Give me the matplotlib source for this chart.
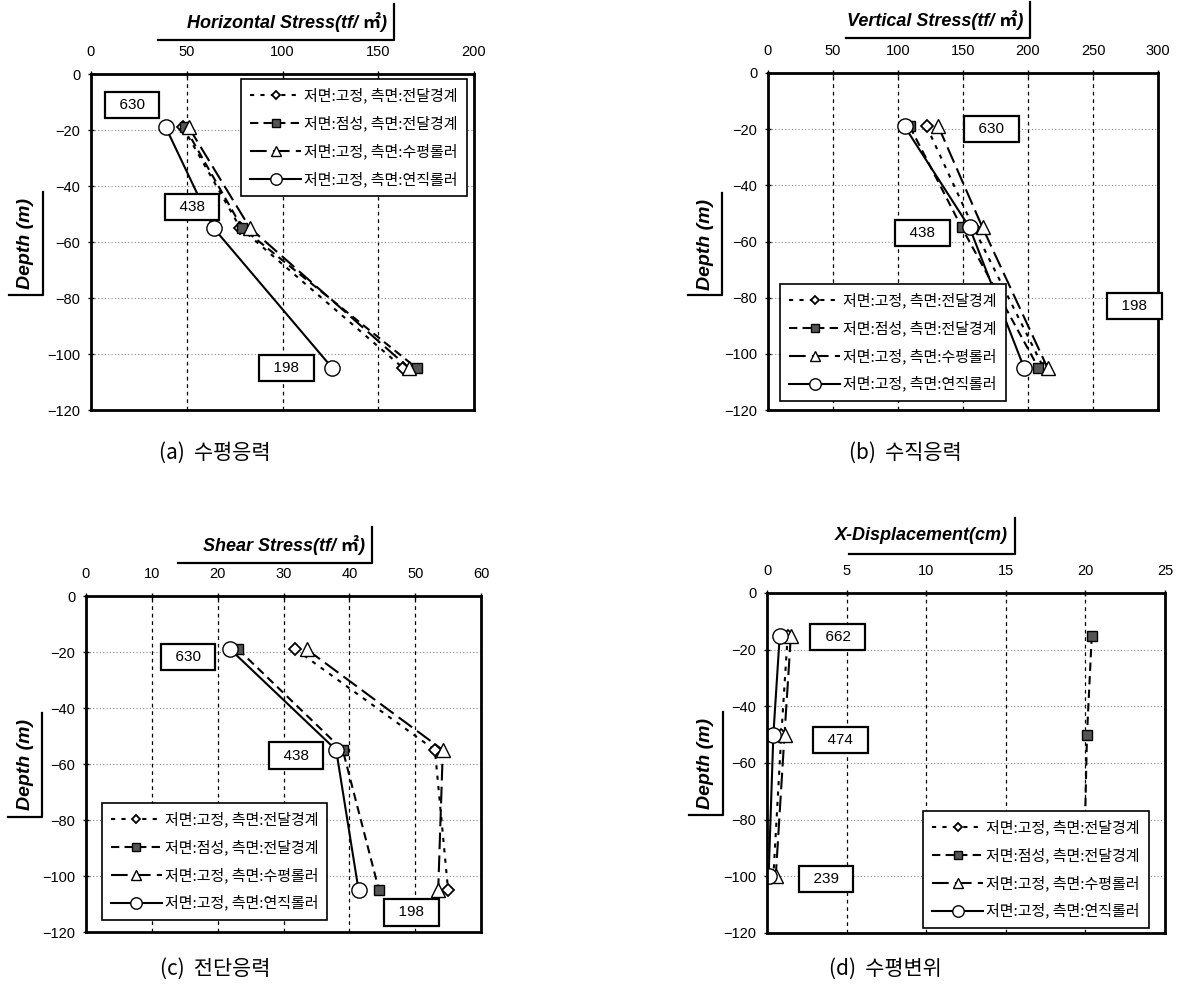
import numpy as np
import matplotlib
matplotlib.use('Agg')
import matplotlib.pyplot as plt
from matplotlib.lines import Line2D

plt.rcParams['font.family'] = ['Liberation Sans', 'Noto Sans CJK KR', 'DejaVu Sans']

# 깊이 (m)
depth_abc = [-19, -55, -105]
depth_d = [-15, -50, -100]

# (a) 수평응력 (tf/m2)
h_fix_trans = [48, 78, 163]
h_visc_trans = [49, 79, 170]
h_fix_hroll = [51, 83, 166]
h_fix_vroll = [39, 64, 126]

# (b) 수직응력 (tf/m2)
v_fix_trans = [122, 158, 212]
v_visc_trans = [109, 149, 208]
v_fix_hroll = [131, 165, 215]
v_fix_vroll = [105, 155, 197]

# (c) 전단응력 (tf/m2)
s_fix_trans = [31.8, 53.0, 55.0]
s_visc_trans = [23.1, 39.0, 44.5]
s_fix_hroll = [33.5, 54.2, 53.5]
s_fix_vroll = [21.9, 38.0, 41.4]

# (d) 수평변위 (cm)
d_fix_trans = [1.3, 0.9, 0.4]
d_visc_trans = [20.4, 20.1, 19.9]
d_fix_hroll = [1.5, 1.1, 0.55]
d_fix_vroll = [0.8, 0.4, 0.1]

names = ['저면:고정, 측면:전달경계', '저면:점성, 측면:전달경계',
         '저면:고정, 측면:수평롤러', '저면:고정, 측면:연직롤러']

# 박스 라벨 (값, x, y)
tags_a = ['630', '438', '198']
tags_a_x = [21.4, 52.7, 102]
tags_a_y = [-11, -47.5, -105]
tags_b = ['630', '438', '198']
tags_b_x = [172, 119, 282]
tags_b_y = [-20, -57, -83]
tags_c = ['630', '438', '198']
tags_c_x = [15.5, 31.9, 49.4]
tags_c_y = [-21.8, -57, -113]
tags_d = ['662', '474', '239']
tags_d_x = [4.45, 4.6, 3.7]
tags_d_y = [-15.5, -52, -101]

styles = [
    dict(ls=(0, (2, 3)), marker='D', ms=6, mfc='white', mec='black', mew=1.3),
    dict(ls=(0, (4, 2.5)), marker='s', ms=7, mfc='#555555', mec='black', mew=1.0),
    dict(ls=(0, (8, 3)), marker='^', ms=10, mfc='white', mec='black', mew=1.0),
    dict(ls='-', marker='o', ms=11, mfc='white', mec='black', mew=1.0),
]

fig = plt.figure(figsize=(11.78, 9.84), dpi=100)
W, H = 1178.0, 984.0


def fx(px):
    return px / W


def fy(py):
    return 1 - py / H


def panel(rect, series, depths, xmax, xstep, leg_anchor, tags, tx, ty, title, tbox, ybox, caption, cap_xy):
    l, t, r, b = rect
    ax = fig.add_axes([fx(l), fy(b), fx(r - l), (b - t) / H])
    for vals, name, st in zip(series, names, styles):
        ax.plot(vals, depths, color='black', lw=1.5, label=name, **st)
    ax.set_xlim(0, xmax)
    ax.set_ylim(-120, 0)
    ax.set_xticks(np.arange(0, xmax + 0.1, xstep))
    ax.set_yticks(np.arange(-120, 1, 20))
    ax.xaxis.tick_top()
    ax.tick_params(axis='both', labelsize=10.5, direction='inout', length=5, width=1,
                   colors='black', pad=5)
    ax.tick_params(axis='x', pad=8)
    for v in ax.get_xticks()[1:-1]:
        ax.axvline(v, color='black', lw=0.9, ls=(0, (3, 3)), zorder=1)
    for v in ax.get_yticks()[1:-1]:
        ax.axhline(v, color='#8a8a8a', lw=0.8, ls=(0, (1, 2)), zorder=1)
    for sp in ax.spines.values():
        sp.set_linewidth(2)
    for s, x, y in zip(tags, tx, ty):
        ax.text(x, y, '  ' + s + '  ', ha='center', va='center', fontsize=11,
                fontweight='medium', zorder=6,
                bbox=dict(boxstyle='square,pad=0.4', fc='white', ec='black', lw=1.6))
    leg = ax.legend(loc='upper left', bbox_to_anchor=leg_anchor, borderaxespad=0,
                    prop={'family': ['Noto Sans CJK KR', 'DejaVu Sans'], 'size': 10.8},
                    handlelength=3.4, handletextpad=0.2, labelspacing=0.8,
                    borderpad=0.6, markerscale=0.75, fancybox=False, framealpha=1,
                    edgecolor='black')
    leg.get_frame().set_linewidth(1.2)
    leg.set_zorder(7)

    # 축 제목과 꺾인 밑줄
    x0, x1, ty0 = tbox
    fig.text(fx(x1 - 3), fy(ty0), title, ha='right', va='center', fontsize=13,
             fontweight='bold', fontstyle='italic',
             family=['Liberation Sans', 'Noto Sans CJK KR'])
    fig.add_artist(Line2D([fx(x0 - 4), fx(x1 + 4), fx(x1 + 4)],
                          [fy(ty0 + 18), fy(ty0 + 18), fy(ty0 - 18)],
                          color='black', lw=1.6))

    yx, yt, yb = ybox
    fig.text(fx(yx - 17), fy((yt + yb) / 2), 'Depth (m)', rotation=90, ha='center',
             va='center', fontsize=14, fontweight='bold', fontstyle='italic')
    fig.add_artist(Line2D([fx(yx - 34), fx(yx), fx(yx)], [fy(yb), fy(yb), fy(yt)],
                          color='black', lw=1.6))

    fig.text(fx(cap_xy[0]), fy(cap_xy[1]), caption, ha='center', va='center', fontsize=15,
             family=['Noto Sans CJK KR', 'DejaVu Sans'], fontweight='light')
    return ax


panel((91, 74, 474, 410), [h_fix_trans, h_visc_trans, h_fix_hroll, h_fix_vroll], depth_abc,
      200, 50, (0.392, 0.985), tags_a, tags_a_x, tags_a_y,
      'Horizontal Stress(tf/ ㎡)', (162, 390, 22), (43, 192, 295), '(a)  수평응력', (215, 453))

panel((768, 73, 1158, 410), [v_fix_trans, v_visc_trans, v_fix_hroll, v_fix_vroll], depth_abc,
      300, 50, (0.031, 0.374), tags_b, tags_b_x, tags_b_y,
      'Vertical Stress(tf/ ㎡)', (850, 1026, 20), (722, 193, 295), '(b)  수직응력', (905, 453))

panel((86, 596, 481, 932), [s_fix_trans, s_visc_trans, s_fix_hroll, s_fix_vroll], depth_abc,
      60, 10, (0.04, 0.384), tags_c, tags_c_x, tags_c_y,
      'Shear Stress(tf/ ㎡)', (182, 368, 545), (42, 713, 817), '(c)  전단응력', (215, 969))

panel((767, 593, 1165, 933), [d_fix_trans, d_visc_trans, d_fix_hroll, d_fix_vroll], depth_d,
      25, 5, (0.392, 0.359), tags_d, tags_d_x, tags_d_y,
      'X-Displacement(cm)', (853, 1011, 536), (723, 712, 815), '(d)  수평변위', (885, 969))

fig.savefig('out.png', dpi=100, facecolor='white')
